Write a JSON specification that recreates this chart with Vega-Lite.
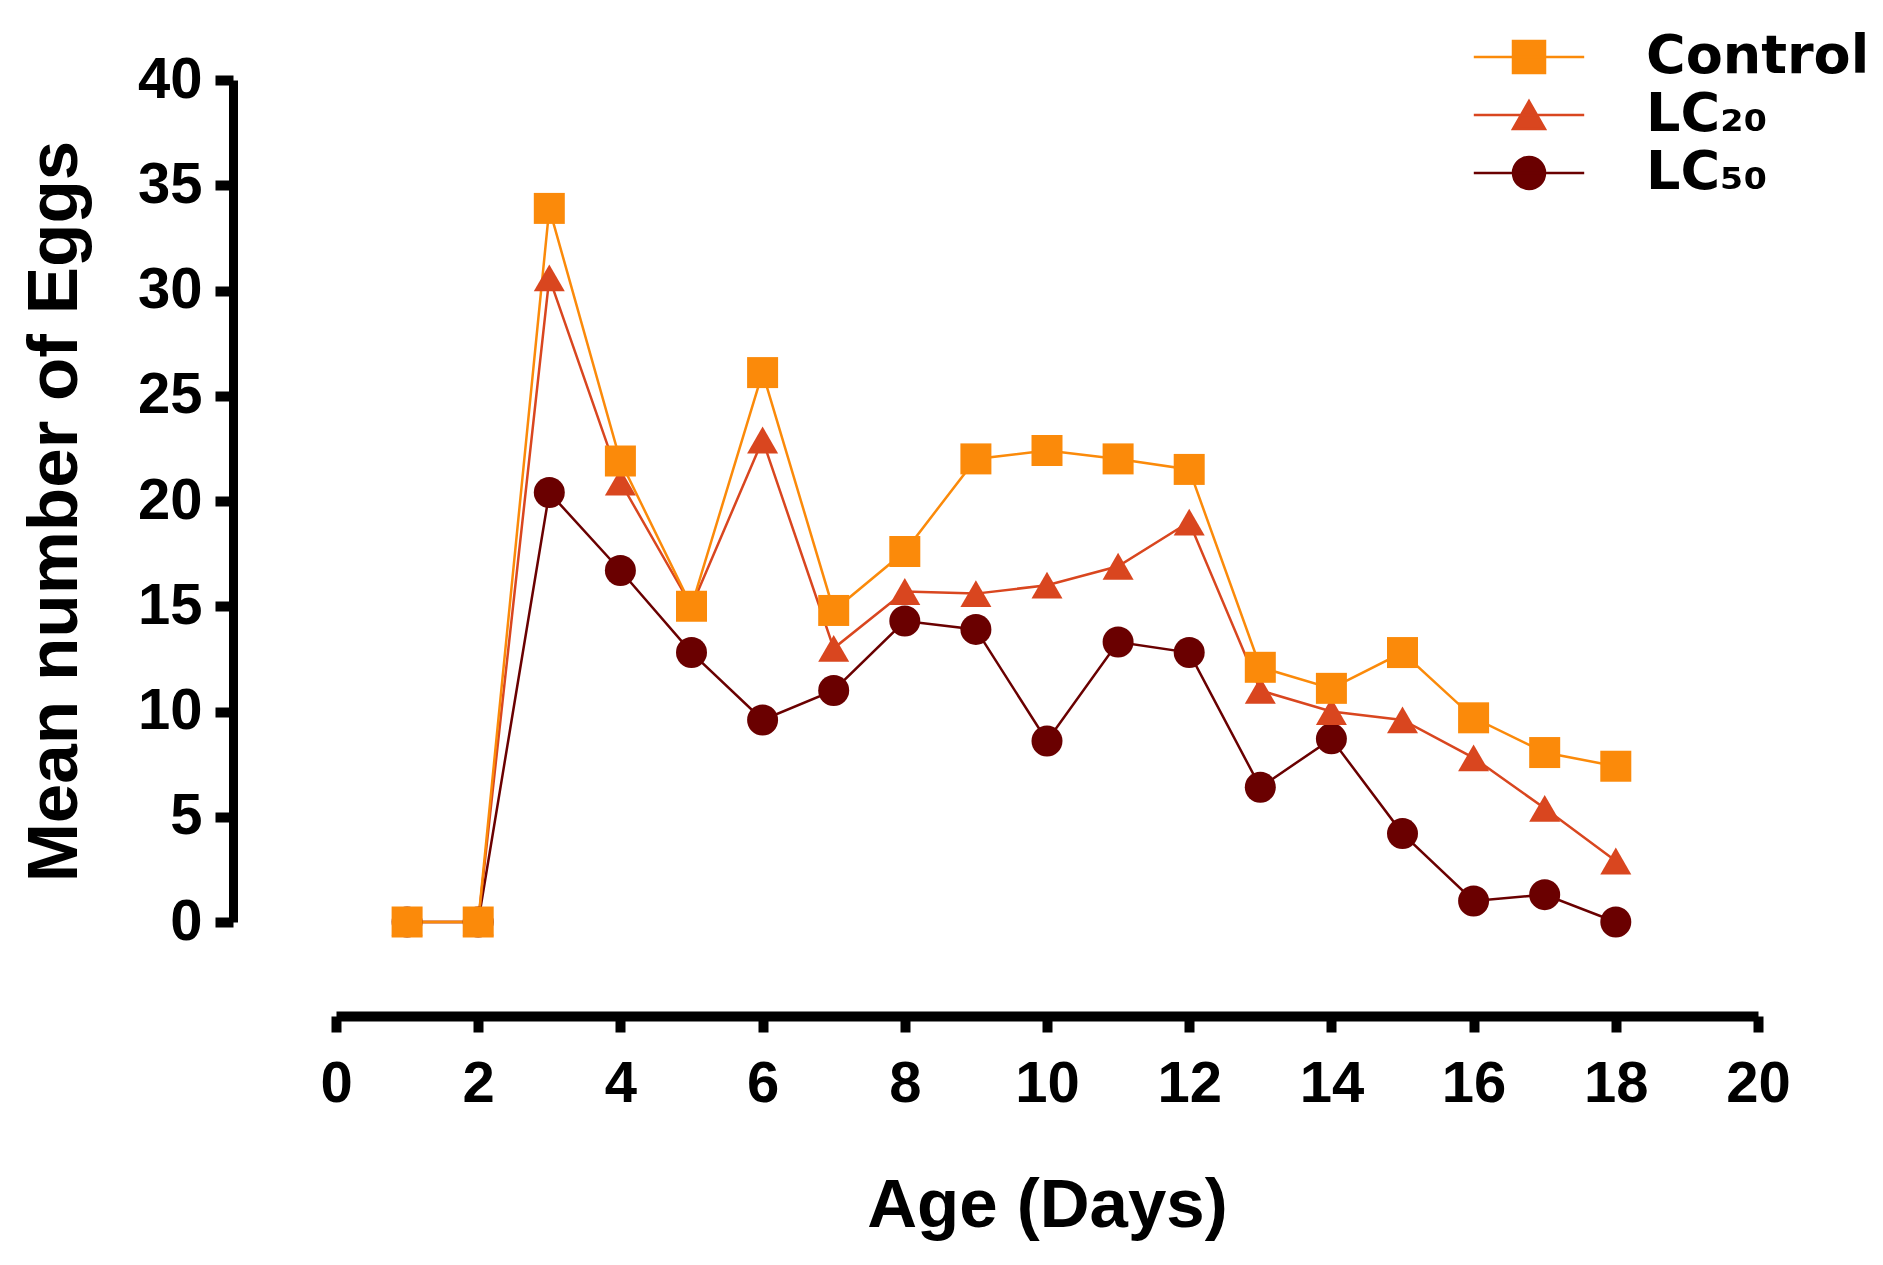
{
  "$schema": "https://vega.github.io/schema/vega-lite/v6.json",
  "width": 1422,
  "height": 842,
  "autosize": {"type": "none"},
  "padding": {"left": 336, "top": 80, "right": 125, "bottom": 343},
  "background": "white",
  "config": {
    "view": {"stroke": null},
    "font": "Liberation Sans",
    "legend": {
      "orient": "none",
      "legendX": 1166,
      "legendY": -50,
      "padding": 0,
      "rowPadding": 4,
      "labelFont": "DejaVu Sans",
      "labelFontWeight": "bold",
      "labelFontSize": 54,
      "labelColor": "black",
      "labelLimit": 0,
      "labelOffset": 90,
      "symbolSize": 1024,
      "symbolStrokeWidth": 2.5,
      "symbolOpacity": 1
    }
  },
  "data": {
    "values": [
      {"series": "LC₅₀", "day": 1, "eggs": 0},
      {"series": "LC₅₀", "day": 2, "eggs": 0},
      {"series": "LC₅₀", "day": 3, "eggs": 20.4},
      {"series": "LC₅₀", "day": 4, "eggs": 16.7},
      {"series": "LC₅₀", "day": 5, "eggs": 12.8},
      {"series": "LC₅₀", "day": 6, "eggs": 9.6},
      {"series": "LC₅₀", "day": 7, "eggs": 11.0},
      {"series": "LC₅₀", "day": 8, "eggs": 14.3},
      {"series": "LC₅₀", "day": 9, "eggs": 13.9},
      {"series": "LC₅₀", "day": 10, "eggs": 8.6},
      {"series": "LC₅₀", "day": 11, "eggs": 13.3},
      {"series": "LC₅₀", "day": 12, "eggs": 12.8},
      {"series": "LC₅₀", "day": 13, "eggs": 6.4},
      {"series": "LC₅₀", "day": 14, "eggs": 8.7},
      {"series": "LC₅₀", "day": 15, "eggs": 4.2},
      {"series": "LC₅₀", "day": 16, "eggs": 1.0},
      {"series": "LC₅₀", "day": 17, "eggs": 1.3},
      {"series": "LC₅₀", "day": 18, "eggs": 0},
      {"series": "LC₂₀", "day": 1, "eggs": 0},
      {"series": "LC₂₀", "day": 2, "eggs": 0},
      {"series": "LC₂₀", "day": 3, "eggs": 30.6},
      {"series": "LC₂₀", "day": 4, "eggs": 20.9},
      {"series": "LC₂₀", "day": 5, "eggs": 15.0},
      {"series": "LC₂₀", "day": 6, "eggs": 22.9},
      {"series": "LC₂₀", "day": 7, "eggs": 13.0},
      {"series": "LC₂₀", "day": 8, "eggs": 15.7},
      {"series": "LC₂₀", "day": 9, "eggs": 15.6},
      {"series": "LC₂₀", "day": 10, "eggs": 16.0},
      {"series": "LC₂₀", "day": 11, "eggs": 16.9},
      {"series": "LC₂₀", "day": 12, "eggs": 19.0},
      {"series": "LC₂₀", "day": 13, "eggs": 11.0},
      {"series": "LC₂₀", "day": 14, "eggs": 10.0},
      {"series": "LC₂₀", "day": 15, "eggs": 9.6},
      {"series": "LC₂₀", "day": 16, "eggs": 7.8},
      {"series": "LC₂₀", "day": 17, "eggs": 5.4},
      {"series": "LC₂₀", "day": 18, "eggs": 2.9},
      {"series": "Control", "day": 1, "eggs": 0},
      {"series": "Control", "day": 2, "eggs": 0},
      {"series": "Control", "day": 3, "eggs": 33.9},
      {"series": "Control", "day": 4, "eggs": 21.9},
      {"series": "Control", "day": 5, "eggs": 15.0},
      {"series": "Control", "day": 6, "eggs": 26.1},
      {"series": "Control", "day": 7, "eggs": 14.8},
      {"series": "Control", "day": 8, "eggs": 17.6},
      {"series": "Control", "day": 9, "eggs": 22.0},
      {"series": "Control", "day": 10, "eggs": 22.4},
      {"series": "Control", "day": 11, "eggs": 22.0},
      {"series": "Control", "day": 12, "eggs": 21.5},
      {"series": "Control", "day": 13, "eggs": 12.1},
      {"series": "Control", "day": 14, "eggs": 11.1},
      {"series": "Control", "day": 15, "eggs": 12.8},
      {"series": "Control", "day": 16, "eggs": 9.7},
      {"series": "Control", "day": 17, "eggs": 8.05},
      {"series": "Control", "day": 18, "eggs": 7.4}
    ]
  },
  "encoding": {
    "x": {
      "field": "day",
      "type": "quantitative",
      "scale": {"domain": [0, 20], "nice": false, "zero": false},
      "axis": {
        "title": "Age (Days)",
        "values": [0, 2, 4, 6, 8, 10, 12, 14, 16, 18, 20],
        "offset": 94,
        "grid": false,
        "domainColor": "black",
        "domainWidth": 10,
        "domainCap": "butt",
        "tickColor": "black",
        "tickWidth": 10,
        "tickSize": 16,
        "tickCap": "butt",
        "labelPadding": 23,
        "labelFont": "Liberation Sans",
        "labelFontSize": 58,
        "labelFontWeight": "bold",
        "labelColor": "black",
        "labelFlush": false,
        "labelOverlap": false,
        "titleFont": "Liberation Sans",
        "titleFontSize": 69,
        "titleFontWeight": "bold",
        "titleColor": "black",
        "titlePadding": 58
      }
    },
    "y": {
      "field": "eggs",
      "type": "quantitative",
      "scale": {"domain": [0, 40], "nice": false},
      "axis": {
        "title": "Mean number of Eggs",
        "values": [0, 5, 10, 15, 20, 25, 30, 35, 40],
        "offset": 103,
        "grid": false,
        "domainColor": "black",
        "domainWidth": 9,
        "domainCap": "butt",
        "tickColor": "black",
        "tickWidth": 10,
        "tickSize": 18,
        "tickCap": "butt",
        "labelPadding": 13,
        "labelFont": "Liberation Sans",
        "labelFontSize": 58,
        "labelFontWeight": "bold",
        "labelColor": "black",
        "labelFlush": false,
        "labelOverlap": false,
        "titleFont": "Liberation Sans",
        "titleFontSize": 71,
        "titleFontWeight": "bold",
        "titleColor": "black",
        "titlePadding": 46,
        "titleY": 431
      }
    }
  },
  "layer": [
    {
      "mark": {"type": "line", "strokeWidth": 2.5, "clip": false},
      "encoding": {
        "color": {
          "field": "series",
          "type": "nominal",
          "scale": {"domain": ["Control", "LC₂₀", "LC₅₀"], "range": ["#FB8A0A", "#D9461F", "#6A0000"]},
          "legend": null
        }
      }
    },
    {
      "mark": {"type": "point", "filled": true, "size": 961, "opacity": 1},
      "encoding": {
        "color": {
          "field": "series",
          "type": "nominal",
          "scale": {"domain": ["Control", "LC₂₀", "LC₅₀"], "range": ["#FB8A0A", "#D9461F", "#6A0000"]},
          "legend": null
        },
        "shape": {
          "field": "series",
          "type": "nominal",
          "scale": {"domain": ["Control", "LC₂₀", "LC₅₀"], "range": ["square", "triangle-up", "circle"]},
          "legend": null
        }
      }
    },
    {
      "transform": [{"filter": "false"}],
      "mark": {"type": "point", "filled": true, "size": 1024, "opacity": 1, "strokeWidth": 2.5},
      "encoding": {
        "fill": {
          "field": "series",
          "type": "nominal",
          "scale": {"domain": ["Control", "LC₂₀", "LC₅₀"], "range": ["#FB8A0A", "#D9461F", "#6A0000"]},
          "legend": {"title": null}
        },
        "stroke": {
          "field": "series",
          "type": "nominal",
          "scale": {"domain": ["Control", "LC₂₀", "LC₅₀"], "range": ["#FB8A0A", "#D9461F", "#6A0000"]},
          "legend": {"title": null}
        },
        "shape": {
          "field": "series",
          "type": "nominal",
          "scale": {
            "domain": ["Control", "LC₂₀", "LC₅₀"],
            "range": [
              "M-3.45,0H3.45M-1,-1H1V1H-1Z",
              "M-3.45,0H3.45M0,-0.87L1,0.87L-1,0.87Z",
              "M-3.45,0H3.45M-1,0A1,1,0,1,0,1,0A1,1,0,1,0,-1,0Z"
            ]
          },
          "legend": {"title": null}
        }
      }
    }
  ],
  "resolve": {"scale": {"shape": "independent", "fill": "independent", "stroke": "independent"}}
}
